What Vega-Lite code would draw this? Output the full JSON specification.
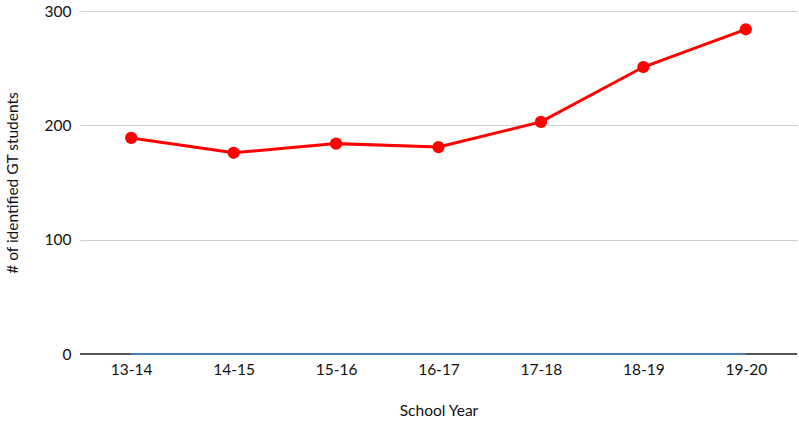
{
  "$schema": "https://vega.github.io/schema/vega-lite/v6.json",
  "autosize": {"type": "none"},
  "width": 717,
  "height": 343,
  "padding": {"left": 80, "top": 11, "right": 2, "bottom": 68},
  "background": "white",
  "config": {
    "view": {"stroke": null},
    "font": "Lato",
    "axis": {"labelFont": "Lato", "titleFont": "Lato", "labelColor": "#111", "titleColor": "#111", "titleFontWeight": "normal"}
  },
  "data": {
    "values": [
      {"year": "13-14", "gt": 189, "other": 0},
      {"year": "14-15", "gt": 176, "other": 0},
      {"year": "15-16", "gt": 184, "other": 0},
      {"year": "16-17", "gt": 181, "other": 0},
      {"year": "17-18", "gt": 203, "other": 0},
      {"year": "18-19", "gt": 251, "other": 0},
      {"year": "19-20", "gt": 284, "other": 0}
    ]
  },
  "encoding": {
    "x": {
      "field": "year",
      "type": "ordinal",
      "scale": {"type": "point", "padding": 0.5},
      "axis": {
        "title": "School Year",
        "labelAngle": 0,
        "labelFontSize": 15.5,
        "titleFontSize": 15.5,
        "domain": false,
        "ticks": false,
        "labelPadding": 8,
        "titlePadding": 26
      }
    }
  },
  "layer": [
    {
      "mark": {"type": "rule", "color": "#555", "strokeWidth": 1.2},
      "encoding": {"y": {"datum": 0}, "x": null}
    },
    {
      "mark": {"type": "line", "color": "#4a7ebb", "strokeWidth": 2},
      "encoding": {
        "y": {
          "field": "other",
          "type": "quantitative",
          "scale": {"domain": [0, 300]},
          "axis": {
            "title": "# of identified GT students",
            "values": [0, 100, 200, 300],
            "grid": true,
            "gridColor": "#d0d0d0",
            "domain": false,
            "ticks": false,
            "labelFontSize": 15.5,
            "titleFontSize": 15.5,
            "labelPadding": 9,
            "titlePadding": 24
          }
        }
      }
    },
    {
      "mark": {"type": "line", "color": "#ff0000", "strokeWidth": 3, "point": {"filled": true, "size": 150, "color": "#ff0000"}},
      "encoding": {"y": {"field": "gt", "type": "quantitative"}}
    }
  ]
}
